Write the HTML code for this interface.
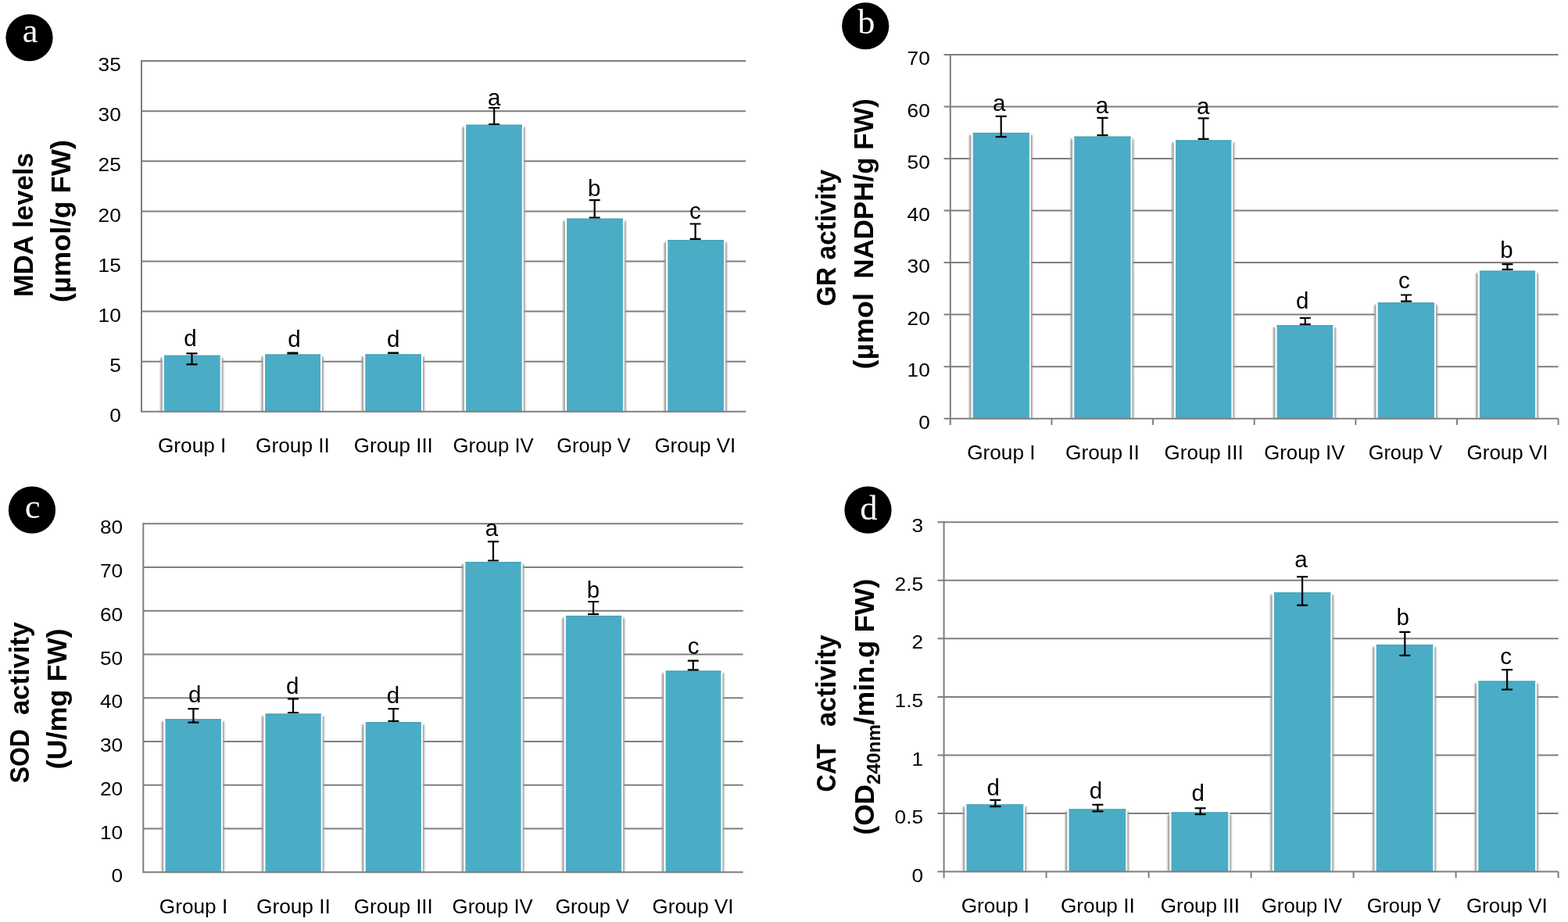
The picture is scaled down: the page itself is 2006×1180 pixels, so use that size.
<!DOCTYPE html>
<html><head><meta charset="utf-8"><title>Figure</title>
<style>
html,body{margin:0;padding:0;background:#fff;}
body{width:2006px;height:1180px;overflow:hidden;}
svg{display:block;}
</style></head><body>
<svg width="2006" height="1180" viewBox="0 0 2006 1180">
<rect x="0" y="0" width="2006" height="1180" fill="#ffffff"/>
<defs><filter id="sh" x="-20%" y="-5%" width="140%" height="110%"><feGaussianBlur stdDeviation="1.1"/></filter></defs>
<g stroke="#7e7e7e" stroke-width="2" fill="none"><line x1="181" y1="78.1" x2="954" y2="78.1"/><line x1="181" y1="142.2" x2="954" y2="142.2"/><line x1="181" y1="206.3" x2="954" y2="206.3"/><line x1="181" y1="270.4" x2="954" y2="270.4"/><line x1="181" y1="334.5" x2="954" y2="334.5"/><line x1="181" y1="398.6" x2="954" y2="398.6"/><line x1="181" y1="462.7" x2="954" y2="462.7"/></g>
<rect x="205.4" y="457.7" width="80.1" height="69.1" fill="#9a979a" filter="url(#sh)"/><rect x="207.7" y="452.4" width="76" height="74.4" fill="#ffffff"/><rect x="210" y="454.7" width="71.7" height="72.1" fill="#4BACC6"/><rect x="210" y="454.9" width="71.7" height="1" fill="#47a1ae"/><rect x="334.4" y="456.4" width="79.4" height="70.4" fill="#9a979a" filter="url(#sh)"/><rect x="336.7" y="451.1" width="75.3" height="75.7" fill="#ffffff"/><rect x="339" y="453.4" width="71" height="73.4" fill="#4BACC6"/><rect x="339" y="453.6" width="71" height="1" fill="#47a1ae"/><rect x="462.7" y="456.3" width="80.1" height="70.5" fill="#9a979a" filter="url(#sh)"/><rect x="465" y="451" width="76" height="75.8" fill="#ffffff"/><rect x="467.3" y="453.3" width="71.7" height="73.5" fill="#4BACC6"/><rect x="467.3" y="453.5" width="71.7" height="1" fill="#47a1ae"/><rect x="591.6" y="162.6" width="80" height="364.2" fill="#9a979a" filter="url(#sh)"/><rect x="593.9" y="157.3" width="75.9" height="369.5" fill="#ffffff"/><rect x="596.2" y="159.6" width="71.6" height="367.2" fill="#4BACC6"/><rect x="596.2" y="159.8" width="71.6" height="1" fill="#47a1ae"/><rect x="720.5" y="282.6" width="80.2" height="244.2" fill="#9a979a" filter="url(#sh)"/><rect x="722.8" y="277.3" width="76.1" height="249.5" fill="#ffffff"/><rect x="725.1" y="279.6" width="71.8" height="247.2" fill="#4BACC6"/><rect x="725.1" y="279.8" width="71.8" height="1" fill="#47a1ae"/><rect x="849.7" y="310" width="80.1" height="216.8" fill="#9a979a" filter="url(#sh)"/><rect x="852" y="304.7" width="76" height="222.1" fill="#ffffff"/><rect x="854.3" y="307" width="71.7" height="219.8" fill="#4BACC6"/><rect x="854.3" y="307.2" width="71.7" height="1" fill="#47a1ae"/>
<g stroke="#7e7e7e" stroke-width="2" fill="none"><line x1="181" y1="526.8" x2="954" y2="526.8"/><line x1="181" y1="77.1" x2="181" y2="527.8"/></g>
<g stroke="#000" stroke-width="2.2" fill="none"><path d="M238.5 452.3H252.5M238.5 466.3H252.5M245.5 452.3V466.3"/><path d="M367.4 451.6H381.4M367.4 452.3H381.4M374.4 451.6V452.3"/><path d="M496 451.6H510M496 452H510M503 451.6V452"/><path d="M625.2 138H639.2M625.2 159H639.2M632.2 138V159"/><path d="M753.7 256.2H767.7M753.7 278.5H767.7M760.7 256.2V278.5"/><path d="M882.6 286.5H896.6M882.6 305.8H896.6M889.6 286.5V305.8"/></g>
<g font-family="'Liberation Sans', Arial, sans-serif" font-size="29.5" text-anchor="middle" fill="#000"><text x="243.4" y="443">d</text><text x="376.5" y="444.4">d</text><text x="503.2" y="444">d</text><text x="632.1" y="134.6">a</text><text x="760.1" y="250.5">b</text><text x="889.4" y="280">c</text></g>
<g font-family="'Liberation Sans', Arial, sans-serif" font-size="24.3" text-anchor="end" fill="#000"><text transform="translate(154.8 539.9) scale(1.08 1)">0</text><text transform="translate(154.8 475.8) scale(1.08 1)">5</text><text transform="translate(154.8 411.7) scale(1.08 1)">10</text><text transform="translate(154.8 347.6) scale(1.08 1)">15</text><text transform="translate(154.8 283.5) scale(1.08 1)">20</text><text transform="translate(154.8 219.4) scale(1.08 1)">25</text><text transform="translate(154.8 155.3) scale(1.08 1)">30</text><text transform="translate(154.8 91.2) scale(1.08 1)">35</text></g>
<g font-family="'Liberation Sans', Arial, sans-serif" font-size="25" text-anchor="middle" fill="#000"><text x="245.67" y="579" textLength="87.4" lengthAdjust="spacingAndGlyphs">Group I</text><text x="374.5" y="579" textLength="94.8" lengthAdjust="spacingAndGlyphs">Group II</text><text x="503.33" y="579" textLength="101" lengthAdjust="spacingAndGlyphs">Group III</text><text x="631.17" y="579" textLength="103.2" lengthAdjust="spacingAndGlyphs">Group IV</text><text x="759.5" y="579" textLength="94.4" lengthAdjust="spacingAndGlyphs">Group V</text><text x="889.33" y="579" textLength="103.8" lengthAdjust="spacingAndGlyphs">Group VI</text></g>
<circle cx="37.5" cy="48.25" r="30.1" fill="#000"/>
<text x="38.65" y="54.05" font-family="'Liberation Serif', 'Times New Roman', serif" font-size="44.5" text-anchor="middle" fill="#fff">a</text>
<g stroke="#7e7e7e" stroke-width="2" fill="none"><line x1="1207.6" y1="69.9" x2="1993.6" y2="69.9"/><line x1="1207.6" y1="136.44" x2="1993.6" y2="136.44"/><line x1="1207.6" y1="202.99" x2="1993.6" y2="202.99"/><line x1="1207.6" y1="269.53" x2="1993.6" y2="269.53"/><line x1="1207.6" y1="336.07" x2="1993.6" y2="336.07"/><line x1="1207.6" y1="402.61" x2="1993.6" y2="402.61"/><line x1="1207.6" y1="469.16" x2="1993.6" y2="469.16"/></g>
<rect x="1240.1" y="172.8" width="80.6" height="362.9" fill="#9a979a" filter="url(#sh)"/><rect x="1242.4" y="167.5" width="76.5" height="368.2" fill="#ffffff"/><rect x="1244.7" y="169.8" width="72.2" height="365.9" fill="#4BACC6"/><rect x="1244.7" y="170" width="72.2" height="1" fill="#47a1ae"/><rect x="1369.7" y="177.6" width="80.6" height="358.1" fill="#9a979a" filter="url(#sh)"/><rect x="1372" y="172.3" width="76.5" height="363.4" fill="#ffffff"/><rect x="1374.3" y="174.6" width="72.2" height="361.1" fill="#4BACC6"/><rect x="1374.3" y="174.8" width="72.2" height="1" fill="#47a1ae"/><rect x="1499.4" y="182.3" width="79.8" height="353.4" fill="#9a979a" filter="url(#sh)"/><rect x="1501.7" y="177" width="75.7" height="358.7" fill="#ffffff"/><rect x="1504" y="179.3" width="71.4" height="356.4" fill="#4BACC6"/><rect x="1504" y="179.5" width="71.4" height="1" fill="#47a1ae"/><rect x="1629" y="419.1" width="80" height="116.6" fill="#9a979a" filter="url(#sh)"/><rect x="1631.3" y="413.8" width="75.9" height="121.9" fill="#ffffff"/><rect x="1633.6" y="416.1" width="71.6" height="119.6" fill="#4BACC6"/><rect x="1633.6" y="416.3" width="71.6" height="1" fill="#47a1ae"/><rect x="1758.1" y="390.2" width="80.7" height="145.5" fill="#9a979a" filter="url(#sh)"/><rect x="1760.4" y="384.9" width="76.6" height="150.8" fill="#ffffff"/><rect x="1762.7" y="387.2" width="72.3" height="148.5" fill="#4BACC6"/><rect x="1762.7" y="387.4" width="72.3" height="1" fill="#47a1ae"/><rect x="1888.3" y="349.5" width="79.6" height="186.2" fill="#9a979a" filter="url(#sh)"/><rect x="1890.6" y="344.2" width="75.5" height="191.5" fill="#ffffff"/><rect x="1892.9" y="346.5" width="71.2" height="189.2" fill="#4BACC6"/><rect x="1892.9" y="346.7" width="71.2" height="1" fill="#47a1ae"/>
<g stroke="#7e7e7e" stroke-width="2" fill="none"><line x1="1207.6" y1="535.7" x2="1993.6" y2="535.7"/><line x1="1215.8" y1="68.9" x2="1215.8" y2="543.9"/><line x1="1345.43" y1="535.7" x2="1345.43" y2="543.9"/><line x1="1475.07" y1="535.7" x2="1475.07" y2="543.9"/><line x1="1604.7" y1="535.7" x2="1604.7" y2="543.9"/><line x1="1734.33" y1="535.7" x2="1734.33" y2="543.9"/><line x1="1863.97" y1="535.7" x2="1863.97" y2="543.9"/><line x1="1993.6" y1="535.7" x2="1993.6" y2="543.9"/></g>
<g stroke="#000" stroke-width="2.2" fill="none"><path d="M1273.7 148.8H1287.7M1273.7 175.2H1287.7M1280.7 148.8V175.2"/><path d="M1403.5 150.8H1417.5M1403.5 173.2H1417.5M1410.5 150.8V173.2"/><path d="M1532.6 151.4H1546.6M1532.6 177.9H1546.6M1539.6 151.4V177.9"/><path d="M1662.8 407H1676.8M1662.8 415.1H1676.8M1669.8 407V415.1"/><path d="M1792 377.5H1806M1792 385.6H1806M1799 377.5V385.6"/><path d="M1921.5 338.2H1935.5M1921.5 344.9H1935.5M1928.5 338.2V344.9"/></g>
<g font-family="'Liberation Sans', Arial, sans-serif" font-size="29.5" text-anchor="middle" fill="#000"><text x="1278.3" y="141.7">a</text><text x="1410" y="144.7">a</text><text x="1539.3" y="145.8">a</text><text x="1666.3" y="394.8">d</text><text x="1796.3" y="369.3">c</text><text x="1927.5" y="329.7">b</text></g>
<g font-family="'Liberation Sans', Arial, sans-serif" font-size="24.3" text-anchor="end" fill="#000"><text transform="translate(1189.8 548.8) scale(1.08 1)">0</text><text transform="translate(1189.8 482.26) scale(1.08 1)">10</text><text transform="translate(1189.8 415.71) scale(1.08 1)">20</text><text transform="translate(1189.8 349.17) scale(1.08 1)">30</text><text transform="translate(1189.8 282.63) scale(1.08 1)">40</text><text transform="translate(1189.8 216.09) scale(1.08 1)">50</text><text transform="translate(1189.8 149.54) scale(1.08 1)">60</text><text transform="translate(1189.8 83) scale(1.08 1)">70</text></g>
<g font-family="'Liberation Sans', Arial, sans-serif" font-size="25" text-anchor="middle" fill="#000"><text x="1280.87" y="588" textLength="87.4" lengthAdjust="spacingAndGlyphs">Group I</text><text x="1410.5" y="588" textLength="94.8" lengthAdjust="spacingAndGlyphs">Group II</text><text x="1540.13" y="588" textLength="101" lengthAdjust="spacingAndGlyphs">Group III</text><text x="1668.77" y="588" textLength="103.2" lengthAdjust="spacingAndGlyphs">Group IV</text><text x="1797.9" y="588" textLength="94.4" lengthAdjust="spacingAndGlyphs">Group V</text><text x="1928.53" y="588" textLength="103.8" lengthAdjust="spacingAndGlyphs">Group VI</text></g>
<circle cx="1107.2" cy="33.25" r="30.1" fill="#000"/>
<text x="1108.2" y="43.45" font-family="'Liberation Serif', 'Times New Roman', serif" font-size="44.2" text-anchor="middle" fill="#fff">b</text>
<g stroke="#7e7e7e" stroke-width="2" fill="none"><line x1="183.3" y1="670.3" x2="950.7" y2="670.3"/><line x1="183.3" y1="726.05" x2="950.7" y2="726.05"/><line x1="183.3" y1="781.8" x2="950.7" y2="781.8"/><line x1="183.3" y1="837.55" x2="950.7" y2="837.55"/><line x1="183.3" y1="893.3" x2="950.7" y2="893.3"/><line x1="183.3" y1="949.05" x2="950.7" y2="949.05"/><line x1="183.3" y1="1004.8" x2="950.7" y2="1004.8"/><line x1="183.3" y1="1060.55" x2="950.7" y2="1060.55"/></g>
<rect x="206.9" y="923.2" width="79.8" height="193.1" fill="#9a979a" filter="url(#sh)"/><rect x="209.2" y="917.9" width="75.7" height="198.4" fill="#ffffff"/><rect x="211.5" y="920.2" width="71.4" height="196.1" fill="#4BACC6"/><rect x="211.5" y="920.4" width="71.4" height="1" fill="#47a1ae"/><rect x="334.9" y="916.4" width="79.6" height="199.9" fill="#9a979a" filter="url(#sh)"/><rect x="337.2" y="911.1" width="75.5" height="205.2" fill="#ffffff"/><rect x="339.5" y="913.4" width="71.2" height="202.9" fill="#4BACC6"/><rect x="339.5" y="913.6" width="71.2" height="1" fill="#47a1ae"/><rect x="463.1" y="927.1" width="79.6" height="189.2" fill="#9a979a" filter="url(#sh)"/><rect x="465.4" y="921.8" width="75.5" height="194.5" fill="#ffffff"/><rect x="467.7" y="924.1" width="71.2" height="192.2" fill="#4BACC6"/><rect x="467.7" y="924.3" width="71.2" height="1" fill="#47a1ae"/><rect x="590.8" y="722.1" width="79.6" height="394.2" fill="#9a979a" filter="url(#sh)"/><rect x="593.1" y="716.8" width="75.5" height="399.5" fill="#ffffff"/><rect x="595.4" y="719.1" width="71.2" height="397.2" fill="#4BACC6"/><rect x="595.4" y="719.3" width="71.2" height="1" fill="#47a1ae"/><rect x="719.3" y="790.9" width="79.6" height="325.4" fill="#9a979a" filter="url(#sh)"/><rect x="721.6" y="785.6" width="75.5" height="330.7" fill="#ffffff"/><rect x="723.9" y="787.9" width="71.2" height="328.4" fill="#4BACC6"/><rect x="723.9" y="788.1" width="71.2" height="1" fill="#47a1ae"/><rect x="847" y="861.4" width="79.2" height="254.9" fill="#9a979a" filter="url(#sh)"/><rect x="849.3" y="856.1" width="75.1" height="260.2" fill="#ffffff"/><rect x="851.6" y="858.4" width="70.8" height="257.9" fill="#4BACC6"/><rect x="851.6" y="858.6" width="70.8" height="1" fill="#47a1ae"/>
<g stroke="#7e7e7e" stroke-width="2" fill="none"><line x1="183.3" y1="1116.3" x2="950.7" y2="1116.3"/><line x1="183.3" y1="669.3" x2="183.3" y2="1117.3"/></g>
<g stroke="#000" stroke-width="2.2" fill="none"><path d="M240.4 907.2H254.4M240.4 924.7H254.4M247.4 907.2V924.7"/><path d="M368 894.4H382M368 912H382M375 894.4V912"/><path d="M496.4 907.2H510.4M496.4 922.8H510.4M503.4 907.2V922.8"/><path d="M624 693.1H638M624 717.5H638M631 693.1V717.5"/><path d="M752.1 770H766.1M752.1 786.2H766.1M759.1 770V786.2"/><path d="M879.8 845.6H893.8M879.8 857.4H893.8M886.8 845.6V857.4"/></g>
<g font-family="'Liberation Sans', Arial, sans-serif" font-size="29.5" text-anchor="middle" fill="#000"><text x="249.1" y="898.8">d</text><text x="374.1" y="887.5">d</text><text x="503" y="900.2">d</text><text x="629" y="686.2">a</text><text x="758.9" y="764.9">b</text><text x="887.2" y="837.1">c</text></g>
<g font-family="'Liberation Sans', Arial, sans-serif" font-size="24.3" text-anchor="end" fill="#000"><text transform="translate(157.1 1129.4) scale(1.08 1)">0</text><text transform="translate(157.1 1073.65) scale(1.08 1)">10</text><text transform="translate(157.1 1017.9) scale(1.08 1)">20</text><text transform="translate(157.1 962.15) scale(1.08 1)">30</text><text transform="translate(157.1 906.4) scale(1.08 1)">40</text><text transform="translate(157.1 850.65) scale(1.08 1)">50</text><text transform="translate(157.1 794.9) scale(1.08 1)">60</text><text transform="translate(157.1 739.15) scale(1.08 1)">70</text><text transform="translate(157.1 683.4) scale(1.08 1)">80</text></g>
<g font-family="'Liberation Sans', Arial, sans-serif" font-size="25" text-anchor="middle" fill="#000"><text x="247.5" y="1169" textLength="87.4" lengthAdjust="spacingAndGlyphs">Group I</text><text x="375.4" y="1169" textLength="94.8" lengthAdjust="spacingAndGlyphs">Group II</text><text x="503.3" y="1169" textLength="101" lengthAdjust="spacingAndGlyphs">Group III</text><text x="630.2" y="1169" textLength="103.2" lengthAdjust="spacingAndGlyphs">Group IV</text><text x="757.6" y="1169" textLength="94.4" lengthAdjust="spacingAndGlyphs">Group V</text><text x="886.5" y="1169" textLength="103.8" lengthAdjust="spacingAndGlyphs">Group VI</text></g>
<circle cx="40.95" cy="652.65" r="30.1" fill="#000"/>
<text x="41.7" y="662.55" font-family="'Liberation Serif', 'Times New Roman', serif" font-size="44.5" text-anchor="middle" fill="#fff">c</text>
<g stroke="#7e7e7e" stroke-width="2" fill="none"><line x1="1199.4" y1="668.3" x2="1993.6" y2="668.3"/><line x1="1199.4" y1="742.83" x2="1993.6" y2="742.83"/><line x1="1199.4" y1="817.37" x2="1993.6" y2="817.37"/><line x1="1199.4" y1="891.9" x2="1993.6" y2="891.9"/><line x1="1199.4" y1="966.43" x2="1993.6" y2="966.43"/><line x1="1199.4" y1="1040.97" x2="1993.6" y2="1040.97"/></g>
<rect x="1231.9" y="1032.4" width="81.2" height="83.1" fill="#9a979a" filter="url(#sh)"/><rect x="1234.2" y="1027.1" width="77.1" height="88.4" fill="#ffffff"/><rect x="1236.5" y="1029.4" width="72.8" height="86.1" fill="#4BACC6"/><rect x="1236.5" y="1029.6" width="72.8" height="1" fill="#47a1ae"/><rect x="1362.9" y="1038.4" width="81.2" height="77.1" fill="#9a979a" filter="url(#sh)"/><rect x="1365.2" y="1033.1" width="77.1" height="82.4" fill="#ffffff"/><rect x="1367.5" y="1035.4" width="72.8" height="80.1" fill="#4BACC6"/><rect x="1367.5" y="1035.6" width="72.8" height="1" fill="#47a1ae"/><rect x="1493.9" y="1042.4" width="81.2" height="73.1" fill="#9a979a" filter="url(#sh)"/><rect x="1496.2" y="1037.1" width="77.1" height="78.4" fill="#ffffff"/><rect x="1498.5" y="1039.4" width="72.8" height="76.1" fill="#4BACC6"/><rect x="1498.5" y="1039.6" width="72.8" height="1" fill="#47a1ae"/><rect x="1625.3" y="761.2" width="80.8" height="354.3" fill="#9a979a" filter="url(#sh)"/><rect x="1627.6" y="755.9" width="76.7" height="359.6" fill="#ffffff"/><rect x="1629.9" y="758.2" width="72.4" height="357.3" fill="#4BACC6"/><rect x="1629.9" y="758.4" width="72.4" height="1" fill="#47a1ae"/><rect x="1756.1" y="827.9" width="81" height="287.6" fill="#9a979a" filter="url(#sh)"/><rect x="1758.4" y="822.6" width="76.9" height="292.9" fill="#ffffff"/><rect x="1760.7" y="824.9" width="72.6" height="290.6" fill="#4BACC6"/><rect x="1760.7" y="825.1" width="72.6" height="1" fill="#47a1ae"/><rect x="1886.7" y="874.5" width="81.2" height="241" fill="#9a979a" filter="url(#sh)"/><rect x="1889" y="869.2" width="77.1" height="246.3" fill="#ffffff"/><rect x="1891.3" y="871.5" width="72.8" height="244" fill="#4BACC6"/><rect x="1891.3" y="871.7" width="72.8" height="1" fill="#47a1ae"/>
<g stroke="#7e7e7e" stroke-width="2" fill="none"><line x1="1199.4" y1="1115.5" x2="1993.6" y2="1115.5"/><line x1="1207.6" y1="667.3" x2="1207.6" y2="1123.7"/><line x1="1338.6" y1="1115.5" x2="1338.6" y2="1123.7"/><line x1="1469.6" y1="1115.5" x2="1469.6" y2="1123.7"/><line x1="1600.6" y1="1115.5" x2="1600.6" y2="1123.7"/><line x1="1731.6" y1="1115.5" x2="1731.6" y2="1123.7"/><line x1="1862.6" y1="1115.5" x2="1862.6" y2="1123.7"/><line x1="1993.6" y1="1115.5" x2="1993.6" y2="1123.7"/></g>
<g stroke="#000" stroke-width="2.2" fill="none"><path d="M1266.4 1023.8H1280.4M1266.4 1032.2H1280.4M1273.4 1023.8V1032.2"/><path d="M1397.4 1029.8H1411.4M1397.4 1038.4H1411.4M1404.4 1029.8V1038.4"/><path d="M1528.6 1034.4H1542.6M1528.6 1042.2H1542.6M1535.6 1034.4V1042.2"/><path d="M1659.1 738.2H1673.1M1659.1 774.7H1673.1M1666.1 738.2V774.7"/><path d="M1790.3 808.8H1804.3M1790.3 838.9H1804.3M1797.3 808.8V838.9"/><path d="M1921.1 857.2H1935.1M1921.1 882.5H1935.1M1928.1 857.2V882.5"/></g>
<g font-family="'Liberation Sans', Arial, sans-serif" font-size="29.5" text-anchor="middle" fill="#000"><text x="1270.8" y="1017.8">d</text><text x="1401.9" y="1022.4">d</text><text x="1532.8" y="1025.4">d</text><text x="1664.4" y="726.4">a</text><text x="1794.8" y="799.7">b</text><text x="1926.7" y="849.5">c</text></g>
<g font-family="'Liberation Sans', Arial, sans-serif" font-size="24.3" text-anchor="end" fill="#000"><text transform="translate(1181.1 1128.6) scale(1.08 1)">0</text><text transform="translate(1181.1 1054.07) scale(1.08 1)">0.5</text><text transform="translate(1181.1 979.53) scale(1.08 1)">1</text><text transform="translate(1181.1 905) scale(1.08 1)">1.5</text><text transform="translate(1181.1 830.47) scale(1.08 1)">2</text><text transform="translate(1181.1 755.93) scale(1.08 1)">2.5</text><text transform="translate(1181.1 681.4) scale(1.08 1)">3</text></g>
<g font-family="'Liberation Sans', Arial, sans-serif" font-size="25" text-anchor="middle" fill="#000"><text x="1273.35" y="1168.4" textLength="87.4" lengthAdjust="spacingAndGlyphs">Group I</text><text x="1404.35" y="1168.4" textLength="94.8" lengthAdjust="spacingAndGlyphs">Group II</text><text x="1535.35" y="1168.4" textLength="101" lengthAdjust="spacingAndGlyphs">Group III</text><text x="1665.35" y="1168.4" textLength="103.2" lengthAdjust="spacingAndGlyphs">Group IV</text><text x="1795.85" y="1168.4" textLength="94.4" lengthAdjust="spacingAndGlyphs">Group V</text><text x="1927.85" y="1168.4" textLength="103.8" lengthAdjust="spacingAndGlyphs">Group VI</text></g>
<circle cx="1110.5" cy="652.65" r="30.1" fill="#000"/>
<text x="1111.4" y="664.65" font-family="'Liberation Serif', 'Times New Roman', serif" font-size="44.6" text-anchor="middle" fill="#fff">d</text>
<g font-family="'Liberation Sans', Arial, sans-serif" font-weight="bold" text-anchor="middle" fill="#000"><text transform="translate(41.8 287.75) rotate(-90)" font-size="35" textLength="184.5" lengthAdjust="spacingAndGlyphs">MDA levels</text><text transform="translate(90.1 283) rotate(-90)" font-size="35" textLength="208" lengthAdjust="spacingAndGlyphs">(µmol/g FW)</text><text transform="translate(1069.1 304.5) rotate(-90)" font-size="35" textLength="175" lengthAdjust="spacingAndGlyphs">GR activity</text><text transform="translate(1117 423.75) rotate(-90)" font-size="35" textLength="97.5" lengthAdjust="spacingAndGlyphs">(µmol</text><text transform="translate(1117 241.25) rotate(-90)" font-size="35" textLength="230.5" lengthAdjust="spacingAndGlyphs">NADPH/g FW)</text><text transform="translate(37.2 967.75) rotate(-90)" font-size="35" textLength="69.5" lengthAdjust="spacingAndGlyphs">SOD</text><text transform="translate(37.2 855.5) rotate(-90)" font-size="35" textLength="119" lengthAdjust="spacingAndGlyphs">activity</text><text transform="translate(85.1 894.5) rotate(-90)" font-size="35" textLength="180" lengthAdjust="spacingAndGlyphs">(U/mg FW)</text><text transform="translate(1069 982.75) rotate(-90)" font-size="35" textLength="61.5" lengthAdjust="spacingAndGlyphs">CAT</text><text transform="translate(1069 871.25) rotate(-90)" font-size="35" textLength="117.5" lengthAdjust="spacingAndGlyphs">activity</text><text transform="translate(1118.3 1036.25) rotate(-90)" font-size="35" textLength="64.5" lengthAdjust="spacingAndGlyphs">(OD</text><text transform="translate(1126 965.5) rotate(-90)" font-size="24" textLength="77" lengthAdjust="spacingAndGlyphs">240nm</text><text transform="translate(1118.3 834) rotate(-90)" font-size="35" textLength="187" lengthAdjust="spacingAndGlyphs">/min.g FW)</text></g>
</svg>
</body></html>
